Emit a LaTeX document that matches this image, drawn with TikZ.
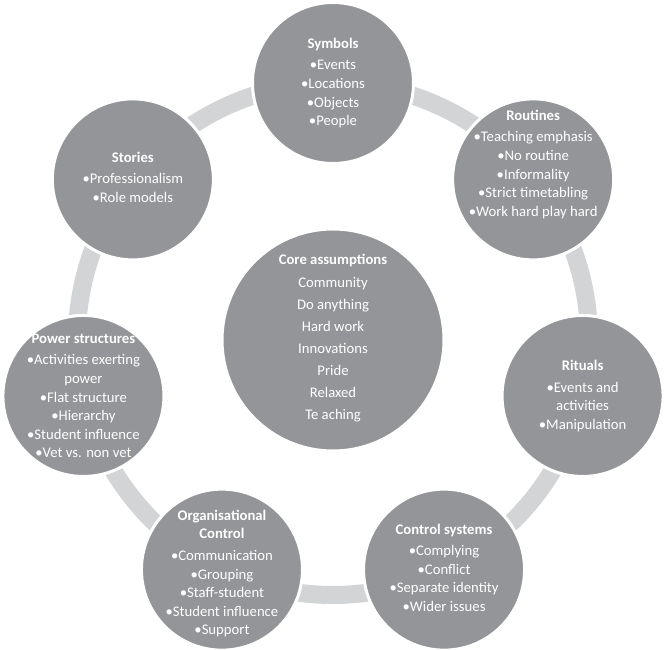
\documentclass[tikz,border=0pt]{standalone}
\usepackage{fontspec}
\setmainfont{Carlito}
\usetikzlibrary{calc}
\definecolor{bub}{HTML}{939598}
\definecolor{ring}{HTML}{D3D4D5}
\tikzset{
  x=1pt,y=1pt,
  bubble/.style={circle,fill=bub,draw=white,line width=3pt,minimum size=161pt,inner sep=0pt},
  corebub/.style={circle,fill=bub,draw=white,line width=3pt,minimum size=222pt,inner sep=0pt},
  txt/.style={align=center,text=white,inner sep=0pt,font=\fontsize{14.7}{18.6}\selectfont},
  coretxt/.style={align=center,text=white,inner sep=0pt,font=\fontsize{14.7}{22}\selectfont},
}
\begin{document}
\begin{tikzpicture}
\useasboundingbox (0,0) rectangle (665,650);
\coordinate (c) at (333,311);
\draw[ring,line width=18pt] (c) circle[radius=256];
\node[corebub] (core) at (333,310) {};
\node[bubble] (sym) at ($(c)+(90:256)$) {};
\node[bubble] (rou) at ($(c)+(38.57:256)$) {};
\node[bubble] (rit) at ($(c)+(-12.86:256)$) {};
\node[bubble] (csy) at ($(c)+(-64.29:256)$) {};
\node[bubble] (org) at ($(c)+(-115.71:256)$) {};
\node[bubble] (pow) at ($(c)+(-167.14:256)$) {};
\node[bubble] (sto) at ($(c)+(141.43:256)$) {};
\node[coretxt] (coret) at ([yshift=2pt]core) {\textbf{Core assumptions}\\[1pt]Community\\Do anything\\Hard work\\Innovations\\Pride\\Relaxed\\Te aching};
\node[txt] (symt) at (sym) {\textbf{Symbols}\\[3pt]•Events\\•Locations\\•Objects\\•People};
\node[txt] (rout) at ([yshift=15pt]rou) {\textbf{Routines}\\[3pt]•Teaching emphasis\\•No routine\\•Informality\\•Strict timetabling\\•Work hard play hard};
\node[txt] (ritt) at (rit) {\textbf{Rituals}\\[3pt]•Events and\\activities\\•Manipulation};
\node[txt] (csyt) at ([yshift=2pt]csy) {\textbf{Control systems}\\[3pt]•Complying\\•Conflict\\•Separate identity\\•Wider issues};
\node[txt] (orgt) at ([yshift=-4pt]org) {\textbf{Organisational}\\\textbf{Control}\\[3pt]•Communication\\•Grouping\\•Staff-student\\•Student influence\\•Support};
\node[txt] (powt) at (pow) {\textbf{Power structures}\\[3pt]•Activities exerting\\power\\•Flat structure\\•Hierarchy\\•Student influence\\•Vet vs. non vet};
\node[txt] (stot) at ([yshift=2pt]sto) {\textbf{Stories}\\[3pt]•Professionalism\\•Role models};
\end{tikzpicture}
\end{document}
